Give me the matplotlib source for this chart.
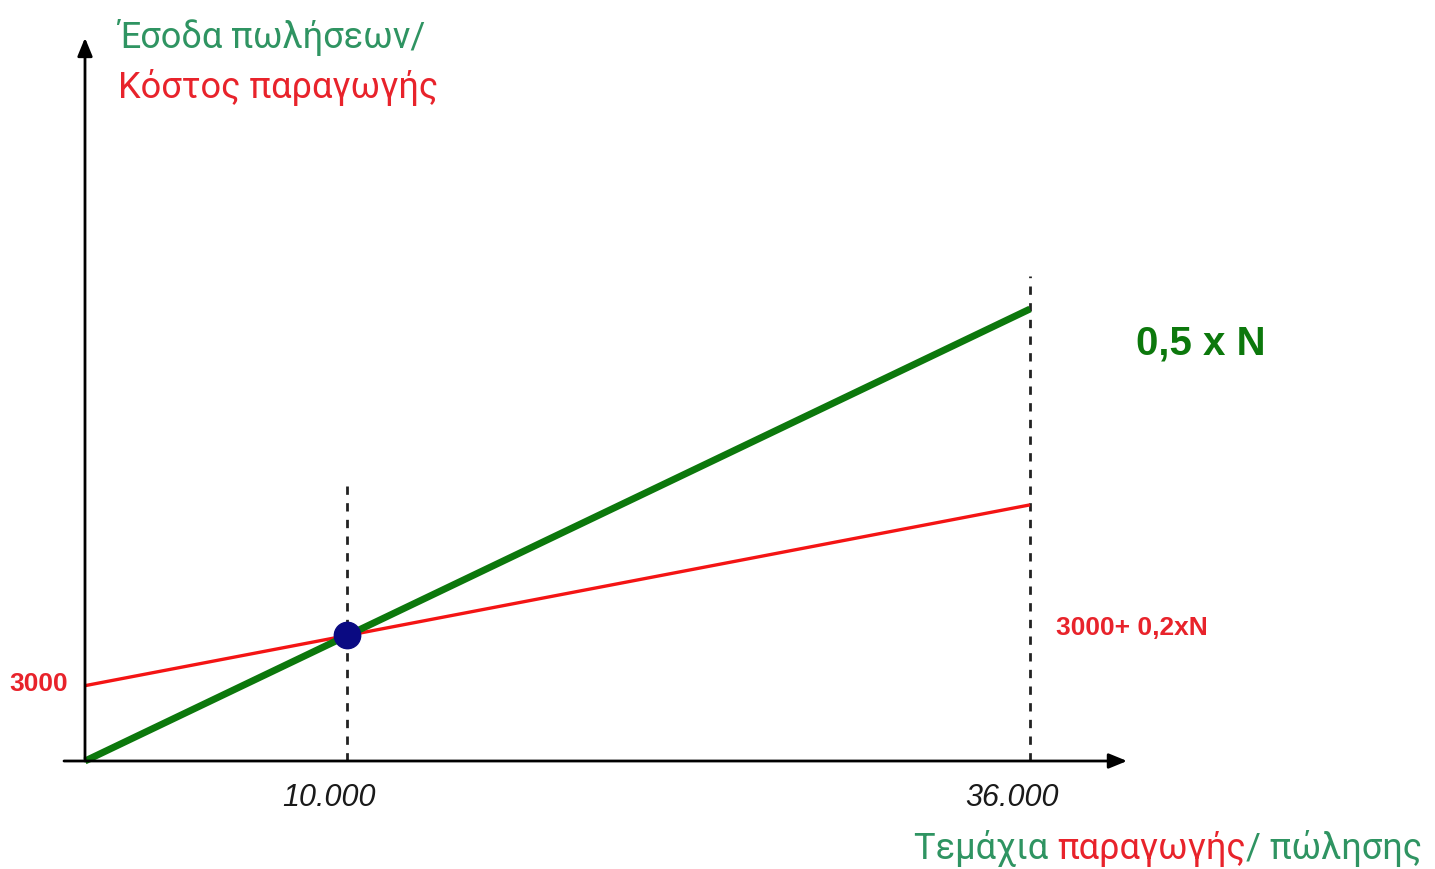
import matplotlib
matplotlib.use("Agg")
from matplotlib import pyplot as plt

units = [0, 10000, 36000]
revenue = [0, 5000, 18000]
cost = [3000, 5000, 10200]
break_even = (10000, 5000)
tick_labels = ["10.000", "36.000"]

GREEN_LINE = "#0c780c"
RED_LINE = "#f41414"
GREEN_TEXT = "#2f9462"
RED_TEXT = "#e8232b"

fig = plt.figure(figsize=(14.35, 8.7), dpi=100)
ax = fig.add_axes([0, 0, 1, 1])
ax.set_xlim(-3238, 51429)
ax.set_ylim(-4301, 30346)
ax.axis("off")

# axes with arrow heads
arrow = dict(arrowstyle="-|>,head_length=1.1,head_width=0.45",
             color="black", lw=2, shrinkA=0, shrinkB=0)
ax.annotate("", xy=(39700, 0), xytext=(-800, 0), arrowprops=arrow)
ax.annotate("", xy=(0, 28800), xytext=(0, 0), arrowprops=arrow)

# dashed guides
ax.plot([units[1], units[1]], [0, 10950], color="#222222", lw=2, ls=(0, (3, 3)))
ax.plot([units[2], units[2]], [0, 19300], color="#222222", lw=2, ls=(0, (3, 3)))

ax.plot(units, cost, color=RED_LINE, lw=2.4, solid_capstyle="butt")
ax.plot(units, revenue, color=GREEN_LINE, lw=5, solid_capstyle="butt")
ax.plot(*break_even, "o", color="#0a0a82", ms=19, zorder=5)

lab_font = ["Liberation Sans", "DejaVu Sans"]
ax.text(-1750, cost[0] + 100, "3000", color=RED_TEXT, fontsize=19,
        fontweight="bold", family=lab_font, ha="center", va="center")
ax.text(42500, 16650, "0,5 x N", color=GREEN_LINE, fontsize=29,
        fontweight="bold", family=lab_font, ha="center", va="center")
ax.text(37000, 5350, "3000+ 0,2xN", color=RED_TEXT, fontsize=19,
        fontweight="bold", family=lab_font, ha="left", va="center")

for u, lab in zip(units[1:], tick_labels):
    ax.text(u - 700, -1450, lab, fontsize=22, style="italic", ha="center",
            va="center", color="#1a1a1a", family=lab_font)

title_font = ["Roboto", "DejaVu Sans"]
# y axis title
ax.text(1250, 28850, "Έσοδα πωλήσεων/", color=GREEN_TEXT, fontsize=26,
        ha="left", va="center", family=title_font)
ax.text(1250, 26850, "Κόστος παραγωγής", color=RED_TEXT, fontsize=26,
        ha="left", va="center", family=title_font)

# x axis title in two colours
t1 = ax.text(31600, -3450, "Τεμάχια ", color=GREEN_TEXT, fontsize=26,
             ha="left", va="center", family=title_font)
t2 = ax.annotate("παραγωγής", xy=(1, 0), xycoords=t1, va="bottom",
                 color=RED_TEXT, fontsize=26, family=title_font)
ax.annotate("/ πώλησης", xy=(1, 0), xycoords=t2, va="bottom",
            color=GREEN_TEXT, fontsize=26, family=title_font)

fig.savefig("out.png", dpi=100)
